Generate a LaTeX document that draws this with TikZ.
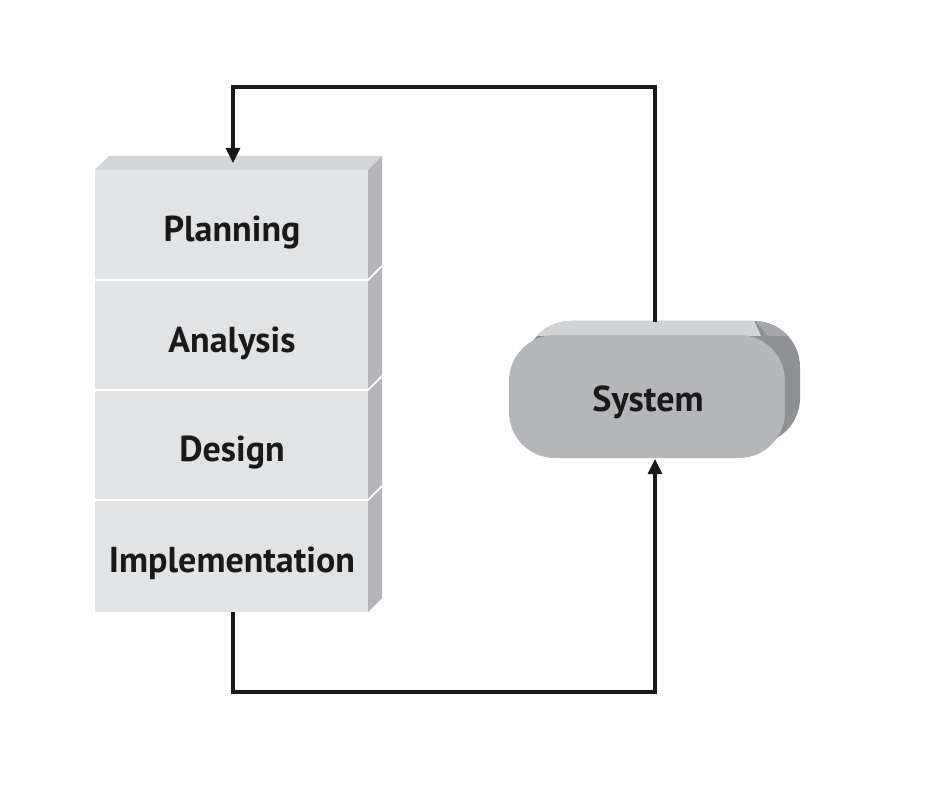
\documentclass[tikz,border=0pt]{standalone}
\usepackage{fontspec}
\setmainfont{PT Sans}
\usetikzlibrary{arrows.meta}
\definecolor{frontc}{HTML}{E2E3E5}
\definecolor{topc}{HTML}{D4D5D7}
\definecolor{sidec}{HTML}{B3B5B8}
\definecolor{sysfront}{HTML}{B4B6B9}
\definecolor{systop}{HTML}{D2D3D5}
\definecolor{sysside}{HTML}{8E9093}
\definecolor{syscorner}{HTML}{A5A7AA}
\tikzset{
  label/.style={inner sep=0pt, font=\fontsize{36}{40}\selectfont\bfseries, text=black!90},
  divider/.style={draw=white, line width=2pt},
  conn/.style={draw=black!90, line width=3.2pt, -{Triangle[length=15pt,width=14pt]}}
}
\begin{document}
\begin{tikzpicture}[x=1pt,y=-1pt]
\useasboundingbox (0,0) rectangle (932,802);
\fill[white] (0,0) rectangle (932,802);
% stack faces
\fill[topc] (95,170) -- (109,156) -- (382,156) -- (368,170) -- cycle;
\fill[sidec] (368,170) -- (382,156) -- (382,598) -- (368,612) -- cycle;
\fill[frontc] (95,170) rectangle (368,612);
\foreach \yy in {280,390,500} {
  \draw[divider] (95,\yy) -- (368,\yy) -- (382,\yy-14);
}
\node[label] (plan) at (232,233) {Planning};
\node[label] (anal) at (232,343) {Analysis};
\node[label] (desi) at (232,453) {Design};
\node[label] (impl) at (232,563) {Implementation};
% system shape
\begin{scope}
  \clip[rounded corners=46pt] (525,321) rectangle (800,444);
  \fill[sysside] (500,300) rectangle (820,460);
  \fill[syscorner] (738,300) -- (768,336) -- (820,336) -- (820,300) -- cycle;
  \fill[systop] (500,300) -- (745,300) -- (761,336) -- (500,336) -- cycle;
\end{scope}
\fill[sysfront, rounded corners=46pt] (509,335) rectangle (785,458);
\node[label] (sys) at (648,402) {System};
% connectors
\coordinate (systop) at (655,322);
\coordinate (sysbot) at (655,459);
\coordinate (stacktop) at (233,163);
\coordinate (stackbot) at (233,612);
\coordinate (tr) at (655,87);
\coordinate (tl) at (233,87);
\coordinate (br) at (655,692);
\coordinate (bl) at (233,692);
\draw[conn] (systop) -- (tr) -- (tl) -- (stacktop);
\draw[conn] (stackbot) -- (bl) -- (br) -- (sysbot);
\end{tikzpicture}
\end{document}
